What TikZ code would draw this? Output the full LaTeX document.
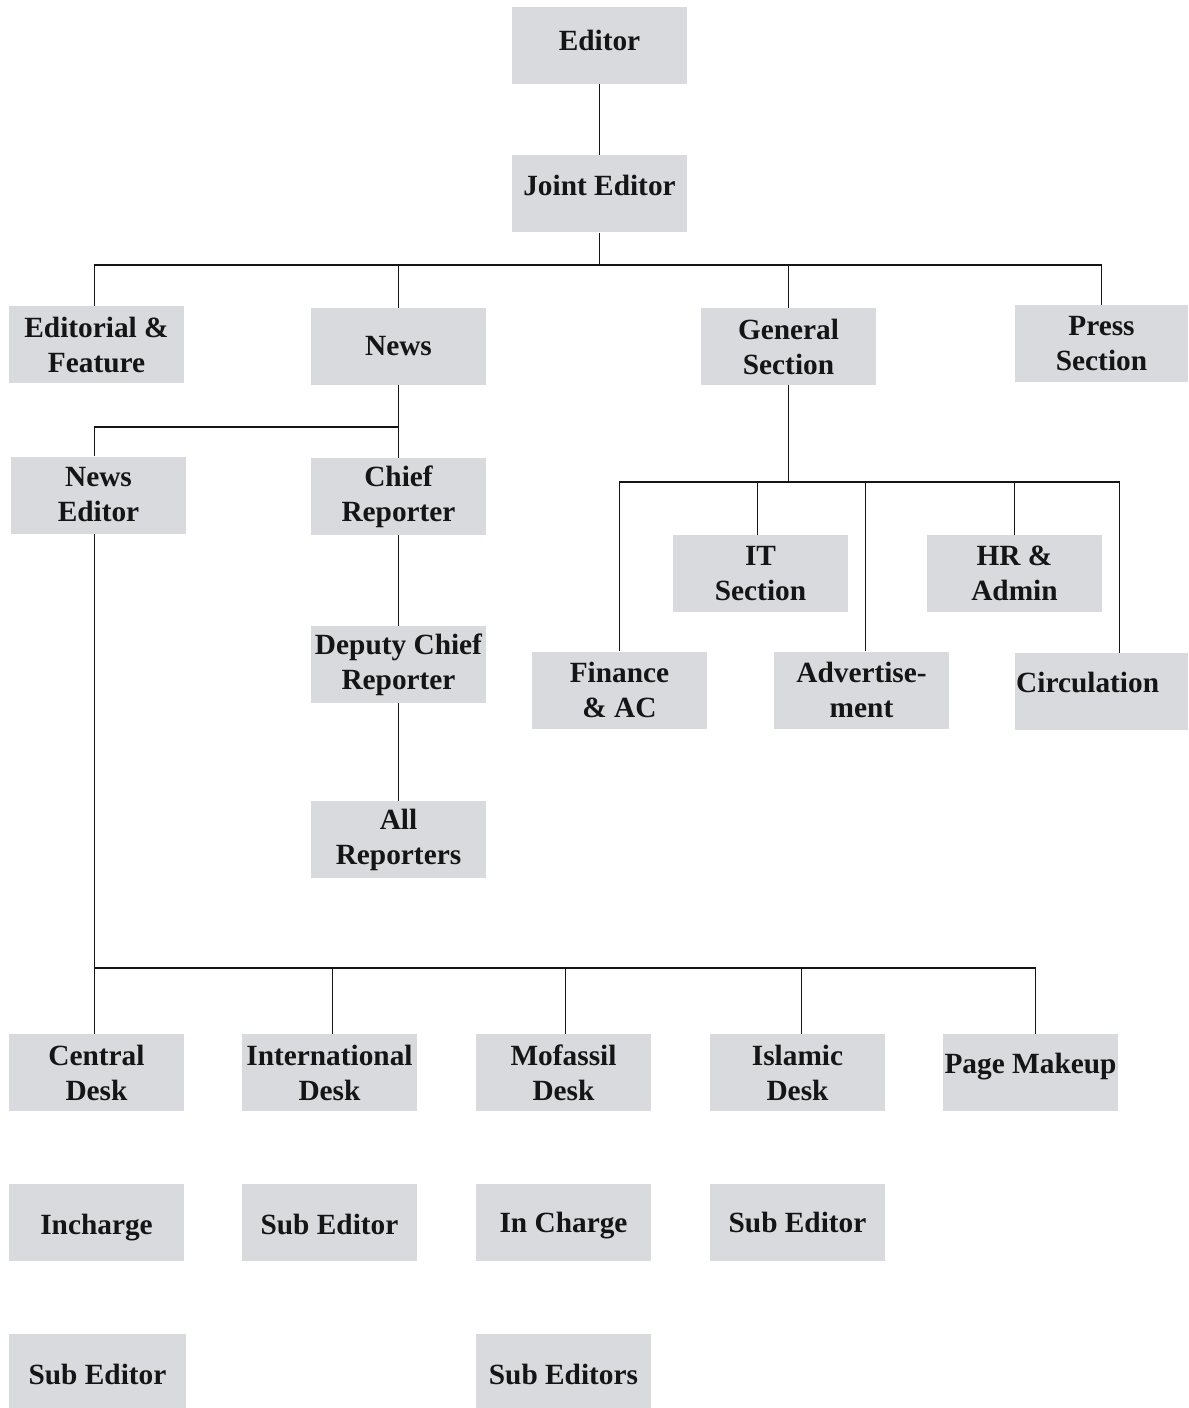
\documentclass[tikz,border=0pt]{standalone}
\usepackage{fontspec}
\setmainfont{Liberation Serif}
\usetikzlibrary{positioning}
\definecolor{boxgray}{HTML}{D9DADE}
\definecolor{ink}{HTML}{151515}
\tikzstyle{orgbox}=[fill=boxgray, inner sep=0, minimum width=131.25pt, minimum height=57.75pt,
	align=center, text=ink, font=\fontsize{22}{26.25}\selectfont\bfseries]
\tikzstyle{narrow}=[minimum width=129.75pt]
\tikzstyle{link}=[draw=ink, line width=1.4pt]
\newcommand{\lift}[2]{\raisebox{#1}[\height][\depth]{#2}}
\begin{document}
\begin{tikzpicture}[x=0.75pt, y=-0.75pt]
	\useasboundingbox (0,0) rectangle (1188,1408);
	% top
	\node[orgbox] (editor) at (599.5,45.5) {\lift{3.75pt}{Editor}};
	\node[orgbox] (joint) at (599.5,194) {\lift{6.75pt}{Joint Editor}};
	% sections
	\node[orgbox] (edfeat) at (96.5,345) {Editorial \&\\Feature};
	\node[orgbox] (news) at (398.5,346.5) {News};
	\node[orgbox] (gensec) at (788.5,346.5) {General\\Section};
	\node[orgbox, narrow] (press) at (1101.5,343.5) {Press\\Section};
	% news
	\node[orgbox] (newsed) at (98.5,495) {News\\Editor};
	\node[orgbox] (chiefrep) at (398.5,496.5) {Chief\\Reporter};
	\node[orgbox] (deputy) at (398.5,664.5) {Deputy Chief\\Reporter};
	\node[orgbox] (allrep) at (398.5,839.5) {All\\Reporters};
	% general section
	\node[orgbox] (itsec) at (760.5,573.5) {IT\\Section};
	\node[orgbox] (hradmin) at (1014.5,573.5) {HR \&\\Admin};
	\node[orgbox] (finance) at (619.5,690) {Finance\\\& AC};
	\node[orgbox] (advert) at (861.5,690) {Advertise-\\ment};
	\node[orgbox, narrow, text width=128pt, align=left] (circ) at (1101.5,691.5) {\lift{6.75pt}{Circulation}};
	% desks
	\node[orgbox] (central) at (96.5,1072.5) {Central\\Desk};
	\node[orgbox] (intl) at (329.5,1072.5) {International\\Desk};
	\node[orgbox] (mofassil) at (563.5,1072.5) {Mofassil\\Desk};
	\node[orgbox] (islamic) at (797.5,1072.5) {Islamic\\Desk};
	\node[orgbox] (makeup) at (1030.5,1072.5) {\lift{4.5pt}{Page Makeup}};
	\node[orgbox] (incharge) at (96.5,1222.5) {\lift{-3.75pt}{Incharge}};
	\node[orgbox] (intlsub) at (329.5,1222.5) {\lift{-1.5pt}{Sub Editor}};
	\node[orgbox] (mofincharge) at (563.5,1222.5) {\lift{-2.25pt}{In Charge}};
	\node[orgbox] (islsub) at (797.5,1222.5) {Sub Editor};
	\node[orgbox, minimum width=132.75pt, minimum height=55.5pt] (centralsub) at (97.5,1371) {\lift{-2.25pt}{Sub Editor}};
	\node[orgbox, minimum height=55.5pt] (mofsubs) at (563.5,1371) {\lift{-2.25pt}{Sub Editors}};

	% bus lines
	\coordinate (busa) at (0,265);
	\coordinate (busb) at (0,427);
	\coordinate (busc) at (0,482);
	\coordinate (busd) at (0,968);

	\draw[link] (editor) -- (joint);
	\draw[link] (joint.south) -- (joint.south |- busa);
	\draw[link] ([xshift=-1.5pt]edfeat.north) -- ([xshift=-1.5pt]edfeat.north |- busa) -- (press.north |- busa) -- (press.north);
	\draw[link] (news.north) -- (news.north |- busa);
	\draw[link] (gensec.north) -- (gensec.north |- busa);

	\draw[link] (news.south) -- (news.south |- busb) -- ([xshift=-3pt]newsed.north |- busb) -- ([xshift=-3pt]newsed.north);
	\draw[link] (news.south |- busb) -- (chiefrep.north);
	\draw[link] (chiefrep) -- (deputy);
	\draw[link] (deputy) -- (allrep);

	\draw[link] (gensec.south) -- (gensec.south |- busc);
	\draw[link] (finance.north) -- (finance.north |- busc) -- ([xshift=13.5pt]circ.north |- busc) -- ([xshift=13.5pt]circ.north);
	\draw[link] ([xshift=-2.25pt]itsec.north) -- ([xshift=-2.25pt]itsec.north |- busc);
	\draw[link] ([xshift=3pt]advert.north) -- ([xshift=3pt]advert.north |- busc);
	\draw[link] (hradmin.north) -- (hradmin.north |- busc);

	\draw[link] ([xshift=-3pt]newsed.south) -- ([xshift=-3pt]newsed.south |- busd) -- ([xshift=3.75pt]makeup.north |- busd) -- ([xshift=3.75pt]makeup.north);
	\draw[link] ([xshift=-1.5pt]central.north) -- ([xshift=-1.5pt]central.north |- busd);
	\draw[link] ([xshift=2.25pt]intl.north) -- ([xshift=2.25pt]intl.north |- busd);
	\draw[link] ([xshift=1.5pt]mofassil.north) -- ([xshift=1.5pt]mofassil.north |- busd);
	\draw[link] ([xshift=3pt]islamic.north) -- ([xshift=3pt]islamic.north |- busd);
\end{tikzpicture}
\end{document}
